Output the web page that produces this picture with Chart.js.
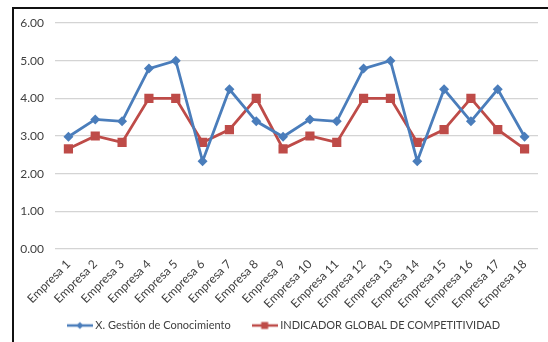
<!DOCTYPE html>
<html>
<head>
<meta charset="utf-8">
<script src="https://cdn.jsdelivr.net/npm/chart.js@4/dist/chart.umd.min.js"></script>
<style>
  html, body { margin: 0; padding: 0; background: #fff; }
  #wrap { position: relative; width: 548px; height: 342px; overflow: hidden; }
  #frame { position: absolute; left: 12px; top: 7px; width: 560px; height: 360px;
           border-left: 2px solid #111; border-top: 2px solid #111; pointer-events: none; }
  canvas { position: absolute; left: 0; top: 0; }
</style>
</head>
<body>
<div id="wrap">
  <canvas id="chart" width="548" height="342"></canvas>
  <div id="frame"></div>
</div>
<script>
// Companies on the horizontal axis
const categories = ['Empresa 1','Empresa 2','Empresa 3','Empresa 4','Empresa 5','Empresa 6',
  'Empresa 7','Empresa 8','Empresa 9','Empresa 10','Empresa 11','Empresa 12','Empresa 13',
  'Empresa 14','Empresa 15','Empresa 16','Empresa 17','Empresa 18'];

// X. Gestión de Conocimiento
const gestionConocimiento = [2.98, 3.44, 3.39, 4.79, 5.00, 2.33, 4.24, 3.39, 2.98,
  3.44, 3.39, 4.79, 5.00, 2.33, 4.24, 3.39, 4.24, 2.98];

// Indicador global de competitividad
const indicadorGlobal = [2.66, 3.00, 2.83, 4.00, 4.00, 2.83, 3.17, 4.00, 2.66,
  3.00, 2.83, 4.00, 4.00, 2.83, 3.17, 4.00, 3.17, 2.66];

// Value axis ticks
const yTicks = [0, 1, 2, 3, 4, 5, 6];

const BLUE = '#4a7dbb';
const RED = '#be4b48';
const TEXT = '#404040';
const FONT = 'Lato, "Open Sans", sans-serif';

// Small legend glyphs: a line with the series marker in the middle
function legendGlyph(color, shape) {
  const c = document.createElement('canvas');
  c.width = 26; c.height = 10;
  const g = c.getContext('2d');
  g.strokeStyle = color; g.lineWidth = 2.5;
  g.beginPath(); g.moveTo(0, 5); g.lineTo(26, 5); g.stroke();
  g.fillStyle = color;
  g.beginPath();
  if (shape === 'diamond') {
    g.moveTo(13, 1.5); g.lineTo(16.5, 5); g.lineTo(13, 8.5); g.lineTo(9.5, 5);
  } else {
    g.rect(9.5, 1.5, 7, 7);
  }
  g.closePath(); g.fill();
  return c;
}

// After layout: give the slanted category labels room below the axis and
// place the legend row under the middle of the plot, near the bottom edge.
const arrangeBottom = {
  id: 'arrangeBottom',
  afterLayout(chart) {
    const x = chart.scales.x;
    x.bottom = 314;
    x.height = x.bottom - x.top;
    const lg = chart.legend;
    if (lg) {
      const h = lg.bottom - lg.top;
      lg.left += 16; lg.right += 16;
      lg.top = 296; lg.bottom = lg.top + h;
    }
  }
};

new Chart(document.getElementById('chart'), {
  type: 'line',
  plugins: [arrangeBottom],
  data: {
    labels: categories,
    datasets: [
      {
        label: 'X. Gestión de Conocimiento',
        data: gestionConocimiento,
        borderColor: BLUE,
        backgroundColor: BLUE,
        borderWidth: 2.8,
        pointStyle: 'rectRot',
        pointRadius: 5,
        pointBorderWidth: 0,
        tension: 0,
        legendGlyph: legendGlyph(BLUE, 'diamond')
      },
      {
        label: 'INDICADOR GLOBAL DE COMPETITIVIDAD',
        data: indicadorGlobal,
        borderColor: RED,
        backgroundColor: RED,
        borderWidth: 2.8,
        pointStyle: 'rect',
        pointRadius: 6.5,
        pointBorderWidth: 0,
        tension: 0,
        legendGlyph: legendGlyph(RED, 'square')
      }
    ]
  },
  options: {
    responsive: false,
    animation: false,
    events: [],
    layout: { padding: { left: 0, right: 10, top: 23, bottom: 1 } },
    plugins: {
      tooltip: { enabled: false },
      legend: {
        position: 'bottom',
        labels: {
          usePointStyle: true,
          pointStyleWidth: 20,
          padding: 24,
          color: TEXT,
          font: { family: FONT, size: 11 },
          generateLabels(chart) {
            return chart.data.datasets.map((ds, i) => ({
              text: ds.label,
              pointStyle: ds.legendGlyph,
              fillStyle: ds.borderColor,
              strokeStyle: ds.borderColor,
              lineWidth: 0,
              fontColor: TEXT,
              hidden: false,
              datasetIndex: i
            }));
          }
        }
      }
    },
    scales: {
      x: {
        offset: true,
        grid: { display: false },
        border: { display: false },
        ticks: {
          minRotation: 45, maxRotation: 45,
          padding: 0,
          color: TEXT,
          font: { family: FONT, size: 12 }
        },
        afterFit(scale) { scale.height = 47; }
      },
      y: {
        min: 0, max: 6,
        afterBuildTicks(scale) { scale.ticks = yTicks.map(v => ({ value: v })); },
        grid: { color: '#d4d4d4', lineWidth: 1.2, drawTicks: false },
        border: { display: false },
        ticks: {
          padding: 11,
          color: TEXT,
          font: { family: FONT, size: 12 },
          callback: v => Number(v).toFixed(2)
        },
        afterFit(scale) { scale.width = 55; }
      }
    }
  }
});
</script>
</body>
</html>
